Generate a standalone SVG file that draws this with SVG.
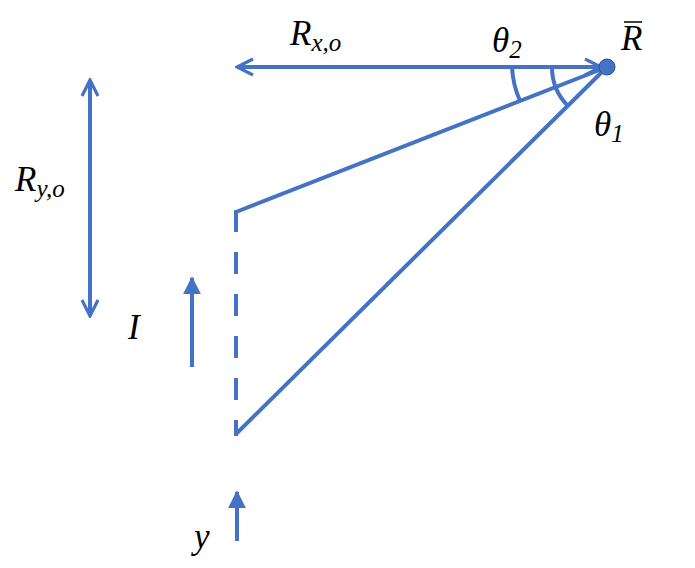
<svg xmlns="http://www.w3.org/2000/svg" width="695" height="568" viewBox="0 0 695 568">
<style>
.l{stroke:#4472c4;stroke-width:4;fill:none}
.t{font-family:"Liberation Serif",serif;font-style:italic;font-size:35px;fill:#000}
.s{font-size:25px}
</style>
<defs>
<marker id="o" viewBox="0 0 10 10" refX="9" refY="5" markerWidth="5" markerHeight="5" orient="auto-start-reverse" markerUnits="strokeWidth"><path d="M1,1 L9,5 L1,9" fill="none" stroke="#4472c4" stroke-width="1.6"/></marker>
<marker id="f" viewBox="0 0 10 10" refX="9" refY="5" markerWidth="4.5" markerHeight="4.5" orient="auto" markerUnits="strokeWidth"><path d="M0,0 L10,5 L0,10 Z" fill="#4472c4"/></marker>
</defs>
<g id="connectors">
<line class="l" x1="601" y1="67" x2="237" y2="67" marker-start="url(#o)" marker-end="url(#o)"/>
<line class="l" x1="236" y1="212" x2="607" y2="67"/>
<line class="l" x1="236" y1="434" x2="607" y2="67"/>
<line class="l" x1="236" y1="210" x2="236" y2="436" stroke-dasharray="22,20"/>
<line class="l" x1="90" y1="80" x2="90" y2="316" marker-start="url(#o)" marker-end="url(#o)"/>
<line class="l" x1="192" y1="367" x2="192" y2="278" marker-end="url(#f)"/>
<line class="l" x1="237" y1="541" x2="237" y2="492" marker-end="url(#f)"/>
<path class="l" d="M512,67 A95,95 0 0 0 520.5,102"/>
<path class="l" d="M552,67 A55,55 0 0 0 568,106"/>
</g>
<g id="R"><circle cx="607" cy="67" r="8" fill="#4472c4" stroke="#2f528f" stroke-width="1"/>
<text class="t" x="621" y="50">R</text><line x1="624" y1="22" x2="642" y2="22" stroke="#000" stroke-width="1.5"/></g>
<g id="labels">
<text class="t" x="290" y="45">R<tspan class="s" dy="6">x,o</tspan></text>
<text class="t" x="492" y="52">θ<tspan class="s" dy="6">2</tspan></text>
<text class="t" x="594" y="136">θ<tspan class="s" dy="6">1</tspan></text>
<text class="t" x="15" y="191">R<tspan class="s" dy="6">y,o</tspan></text>
<text class="t" x="128" y="339">I</text>
<text class="t" x="194" y="548">y</text>
</g>
</svg>
